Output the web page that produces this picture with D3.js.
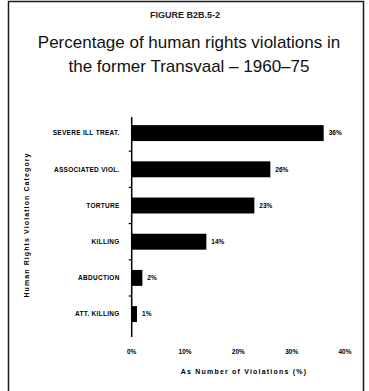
<!DOCTYPE html>
<html>
<head>
<meta charset="utf-8">
<script src="https://cdn.jsdelivr.net/npm/d3@7"></script>
<style>
  html, body { margin: 0; padding: 0; background: #fff; }
  svg { display: block; }
  text { font-family: "Liberation Sans", Arial, sans-serif; }
</style>
</head>
<body>
<svg id="chart" width="369" height="391"></svg>
<script>
// Violation categories (top to bottom) and their share of all violations (%)
const categories = ["SEVERE ILL TREAT.", "ASSOCIATED VIOL.", "TORTURE", "KILLING", "ABDUCTION", "ATT. KILLING"];
const percentages = [36, 26, 23, 14, 2, 1];
const tickValues = [0, 10, 20, 30, 40];
const tickLabels = ["0%", "10%", "20%", "30%", "40%"];

const figureLabel = "FIGURE B2B.5-2";
const titleLines = ["Percentage of human rights violations in", "the former Transvaal \u2013 1960\u201375"];
const xTitle = "As Number of Violations (%)";
const yTitle = "Human Rights Violation Category";

const svg = d3.select("#chart");
const W = 369, H = 391;

// outer frame
svg.append("rect")
  .attr("x", 8.5).attr("y", 1.5)
  .attr("width", 355).attr("height", H + 10)
  .attr("fill", "none").attr("stroke", "#1a1a1a").attr("stroke-width", 1.5);

svg.append("text")
  .attr("x", 185).attr("y", 18)
  .attr("text-anchor", "middle")
  .attr("font-size", 9).attr("font-weight", "bold")
  .attr("fill", "#222")
  .text(figureLabel);

svg.selectAll("text.title").data(titleLines).join("text")
  .attr("class", "title")
  .attr("x", 189).attr("y", (d, i) => 48 + i * 24)
  .attr("text-anchor", "middle")
  .attr("font-size", 17)
  .attr("fill", "#111")
  .text(d => d);

const x = d3.scaleLinear().domain([0, 40]).range([131.7, 345]);
const y = d3.scaleBand().domain(categories).range([115, 332.2])
  .paddingInner(0.56).paddingOuter(0.28);

const data = categories.map((c, i) => ({ c, v: percentages[i] }));

// bars
svg.append("g").selectAll("rect").data(data).join("rect")
  .attr("x", x(0))
  .attr("y", d => y(d.c))
  .attr("width", d => x(d.v) - x(0))
  .attr("height", y.bandwidth())
  .attr("fill", "#000");

// value labels
svg.append("g").selectAll("text").data(data).join("text")
  .attr("x", d => x(d.v) + 5)
  .attr("y", d => y(d.c) + y.bandwidth() / 2)
  .attr("dy", "0.35em")
  .attr("font-size", 6.5).attr("font-weight", "bold")
  .text(d => d.v + "%");

// vertical category axis
const yAxis = svg.append("g").attr("transform", `translate(${x(0)},0)`);
yAxis.append("line")
  .attr("y1", 117).attr("y2", 337)
  .attr("stroke", "#000").attr("stroke-width", 1.5);
const step = y.step();
const boundaries = categories.slice(1).map(c => y(c) - (step - y.bandwidth()) / 2);
yAxis.selectAll("line.tick").data(boundaries).join("line")
  .attr("class", "tick")
  .attr("x1", -3).attr("x2", 0)
  .attr("y1", d => d).attr("y2", d => d)
  .attr("stroke", "#000").attr("stroke-width", 1.2);
yAxis.selectAll("text").data(categories).join("text")
  .attr("x", -12)
  .attr("y", d => y(d) + y.bandwidth() / 2)
  .attr("dy", "0.35em")
  .attr("text-anchor", "end")
  .attr("font-size", 6.5).attr("font-weight", "bold")
  .attr("letter-spacing", 0.3)
  .text(d => d);

// horizontal tick labels (no axis line)
svg.append("g").selectAll("text").data(tickValues).join("text")
  .attr("x", d => x(d))
  .attr("y", 354)
  .attr("text-anchor", "middle")
  .attr("font-size", 6.5).attr("font-weight", "bold")
  .text((d, i) => tickLabels[i]);

svg.append("text")
  .attr("x", 244).attr("y", 374)
  .attr("text-anchor", "middle")
  .attr("font-size", 7).attr("font-weight", "bold")
  .attr("letter-spacing", 1.2)
  .text(xTitle);

svg.append("text")
  .attr("transform", "translate(29,225) rotate(-90)")
  .attr("text-anchor", "middle")
  .attr("font-size", 7).attr("font-weight", "bold")
  .attr("letter-spacing", 1.1)
  .text(yTitle);
</script>
</body>
</html>
